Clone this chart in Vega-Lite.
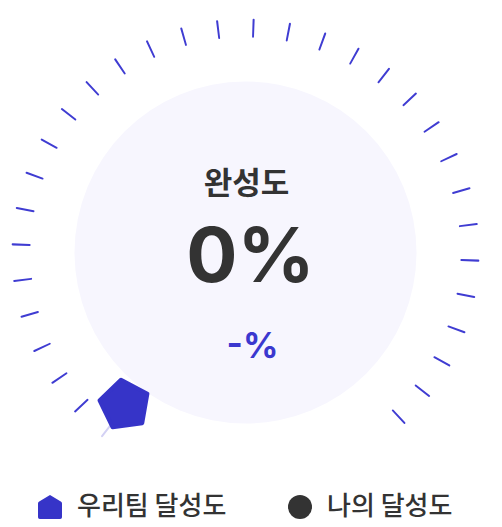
{
  "$schema": "https://vega.github.io/schema/vega-lite/v6.json",
  "width": 491,
  "height": 505,
  "padding": {"left": 0, "top": 0, "right": 11, "bottom": 22},
  "autosize": {"type": "none"},
  "background": "#ffffff",
  "config": {"view": {"stroke": null}},
  "layer": [
    {
      "data": {"values": [{"part": "face"}]},
      "mark": {"type": "arc", "theta": 0, "theta2": 6.2832, "radius": 171, "radius2": 0, "fill": "#f7f6fe"},
      "encoding": {}
    },
    {
      "data": {"values": [
        {"k": 0}, {"k": 1}, {"k": 2}, {"k": 3}, {"k": 4}, {"k": 5}, {"k": 6}, {"k": 7},
        {"k": 8}, {"k": 9}, {"k": 10}, {"k": 11}, {"k": 12}, {"k": 13}, {"k": 14}, {"k": 15},
        {"k": 16}, {"k": 17}, {"k": 18}, {"k": 19}, {"k": 20}, {"k": 21}, {"k": 22}, {"k": 23},
        {"k": 24}, {"k": 25}, {"k": 26}, {"k": 27}, {"k": 28}, {"k": 29}, {"k": 30}, {"k": 31}
      ]},
      "mark": {"type": "arc", "radius": 234, "radius2": 215, "cornerRadius": 1},
      "encoding": {
        "theta": {
          "field": "k",
          "type": "ordinal",
          "scale": {"type": "band", "range": [-2.48273, 2.39546], "paddingInner": 0.944444, "paddingOuter": 0}
        },
        "color": {"condition": {"test": "datum.k == 0", "value": "#d3d1f4"}, "value": "#3f3cd2"}
      }
    },
    {
      "data": {"values": [{"label": "완성도"}]},
      "mark": {"type": "text", "font": "Noto Sans CJK KR", "fontSize": 31, "fontWeight": 700, "color": "#333333", "align": "center", "baseline": "alphabetic", "dy": -59, "dx": 1},
      "encoding": {"text": {"field": "label"}}
    },
    {
      "data": {"values": [{"label": "0%"}]},
      "mark": {"type": "text", "font": "Inter", "fontSize": 76, "fontWeight": 700, "color": "#333333", "align": "center", "baseline": "alphabetic", "dy": 29.5, "dx": 5},
      "encoding": {"text": {"field": "label"}}
    },
    {
      "data": {"values": [{"label": "-%"}]},
      "mark": {"type": "text", "font": "Inter", "fontSize": 35, "fontWeight": 700, "color": "#3b38cf", "align": "center", "baseline": "alphabetic", "dy": 105.5, "dx": 7},
      "encoding": {"text": {"field": "label"}}
    },
    {
      "data": {"values": [{"series": "우리팀 달성도"}, {"series": "나의 달성도"}]},
      "mark": {"type": "point", "filled": true, "size": 0},
      "encoding": {
        "color": {
          "field": "series",
          "type": "nominal",
          "scale": {"domain": ["우리팀 달성도", "나의 달성도"], "range": ["#3634c8", "#333333"]},
          "legend": {
            "orient": "none",
            "legendX": 37,
            "legendY": 494,
            "direction": "horizontal",
            "title": null,
            "padding": 0,
            "symbolSize": 576,
            "symbolOpacity": 1,
            "symbolStrokeWidth": 0,
            "labelFont": "Noto Sans CJK KR",
            "labelFontSize": 26,
            "labelFontWeight": 500,
            "labelColor": "#333333",
            "labelOffset": 14,
            "labelBaseline": "middle",
            "columnPadding": 60,
            "encode": {"symbols": {"update": {"opacity": {"value": 1}, "fillOpacity": {"value": 1}}}}
          }
        },
        "shape": {
          "field": "series",
          "type": "nominal",
          "scale": {"domain": ["우리팀 달성도", "나의 달성도"], "range": ["M0,-1L0.9,-0.45Q1,-0.4 1,-0.3L1,0.85Q1,1 0.85,1L-0.85,1Q-1,1 -1,0.85L-1,-0.3Q-1,-0.4 -0.9,-0.45Z", "circle"]}
        }
      }
    },
    {
      "data": {"values": [{"series": "우리팀 달성도", "k": 0}]},
      "mark": {"type": "text", "text": "⬟", "font": "DejaVu Sans", "fontSize": 58, "align": "center", "baseline": "middle", "angle": -8, "radius": 196, "color": "#3634c8", "stroke": "#3634c8", "strokeWidth": 4, "strokeJoin": "round"},
      "encoding": {"theta": {"field": "k", "type": "ordinal"}}
    }
  ]
}
